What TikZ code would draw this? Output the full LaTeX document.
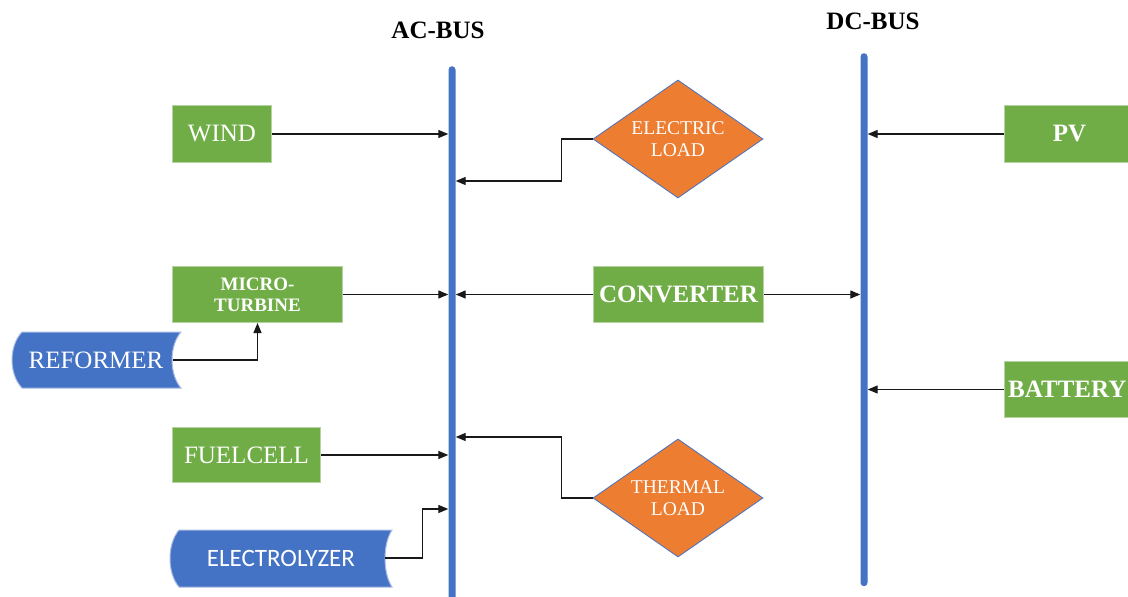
\documentclass[tikz,border=0pt]{standalone}
\usepackage{fontspec}
\setmainfont{Liberation Serif}
\newfontfamily\calib{Carlito}
\usetikzlibrary{shapes.geometric,arrows.meta}
\definecolor{grn}{HTML}{70AD47}
\definecolor{grnb}{HTML}{B4D3A0}
\definecolor{blu}{HTML}{4472C4}
\definecolor{blub}{HTML}{A9BCE3}
\definecolor{org}{HTML}{ED7D31}
\begin{document}
\begin{tikzpicture}[x=1pt,y=-1pt,
  gbox/.style={fill=grn, draw=grnb, line width=1pt, inner sep=0pt, anchor=north west, text=white, align=center},
  txt/.style={font=\fontsize{25}{28}\selectfont},
  btxt/.style={font=\fontsize{25}{28}\selectfont\bfseries},
  dia/.style={diamond, fill=org, draw=blu, line width=0.8pt, inner sep=0pt, minimum width=170pt, minimum height=118pt, aspect=1.44, text=white, align=center, font=\fontsize{19.5}{22}\selectfont},
  bus/.style={fill=blu, draw=none, minimum width=7pt, inner sep=0pt, rounded corners=3.5pt, anchor=north},
  arr/.style={draw=black!90, line width=1.3pt, -{Triangle[length=10pt,width=8pt]}},
  sd/.style={fill=blu, draw=blub, line width=1pt}
]
\clip (0,0) rectangle (1128,597);
\fill[white] (0,0) rectangle (1128,597);

% buses
\node[bus, minimum height=545pt] (ac) at (452,66) {};
\node[bus, minimum height=533pt] (dc) at (864,53) {};
\node[btxt] (aclbl) at (438,30) {AC-BUS};
\node[btxt] (dclbl) at (873,21) {DC-BUS};

% green boxes
\node[gbox, txt, minimum width=99pt, minimum height=57pt] (wind) at (172,105) {WIND};
\node[gbox, font=\fontsize{19}{21}\selectfont\bfseries, minimum width=170pt, minimum height=56pt] (micro) at (172,266) {MICRO-\\TURBINE};
\node[gbox, txt, minimum width=148pt, minimum height=55pt] (fuel) at (172,427) {FUELCELL};
\node[gbox, btxt, minimum width=170pt, minimum height=56pt] (conv) at (593,266) {CONVERTER};
\node[gbox, btxt, minimum width=130pt, minimum height=57pt] (pv) at (1004,105) {PV};
\node[gbox, minimum width=130pt, minimum height=56pt] (batt) at (1004,361) {};
\node[btxt, text=white, anchor=west, inner sep=0pt] (battlbl) at (1008,389) {BATTERY};

% diamonds
\node[dia] (eload) at (678,139) {ELECTRIC\\LOAD};
\node[dia] (tload) at (678,498) {THERMAL\\LOAD};

% stored data shapes
\path[sd] (22,332) -- (181,332) .. controls (169,346) and (169,374) .. (181,388)
  -- (22,388) .. controls (8.7,374) and (8.7,346) .. (22,332) -- cycle;
\node[txt, text=white, minimum width=154pt, minimum height=56pt, inner sep=0pt] (ref) at (96,360) {REFORMER};
\path[sd] (179,530) -- (392,530) .. controls (382.7,544) and (382.7,573) .. (392,587)
  -- (179,587) .. controls (167,573) and (167,544) .. (179,530) -- cycle;
\node[text=white, font=\calib\fontsize{25}{27}\selectfont, minimum width=208pt, minimum height=56pt, inner sep=0pt] (elec) at (281,558) {ELECTROLYZER};

% connectors
\draw[arr] (wind.east) -- (wind.east -| ac.west);
\draw[arr] (eload.west) -- ++(-31,0) |- (ac.east |- 0,181);
\draw[arr] (micro.east) -- (micro.east -| ac.west);
\draw[arr] (conv.west) -- (conv.west -| ac.east);
\draw[arr] (conv.east) -- (conv.east -| dc.west);
\draw[arr] (ref.east) -| (micro.south);
\draw[arr] (fuel.east) -- (fuel.east -| ac.west);
\draw[arr] (tload.west) -- ++(-31,0) |- (ac.east |- 0,437);
\draw[arr] (elec.east) -- ++(37,0) |- (ac.west |- 0,509);
\draw[arr] (pv.west) -- (pv.west -| dc.east);
\draw[arr] (batt.west) -- (batt.west -| dc.east);
\end{tikzpicture}
\end{document}
